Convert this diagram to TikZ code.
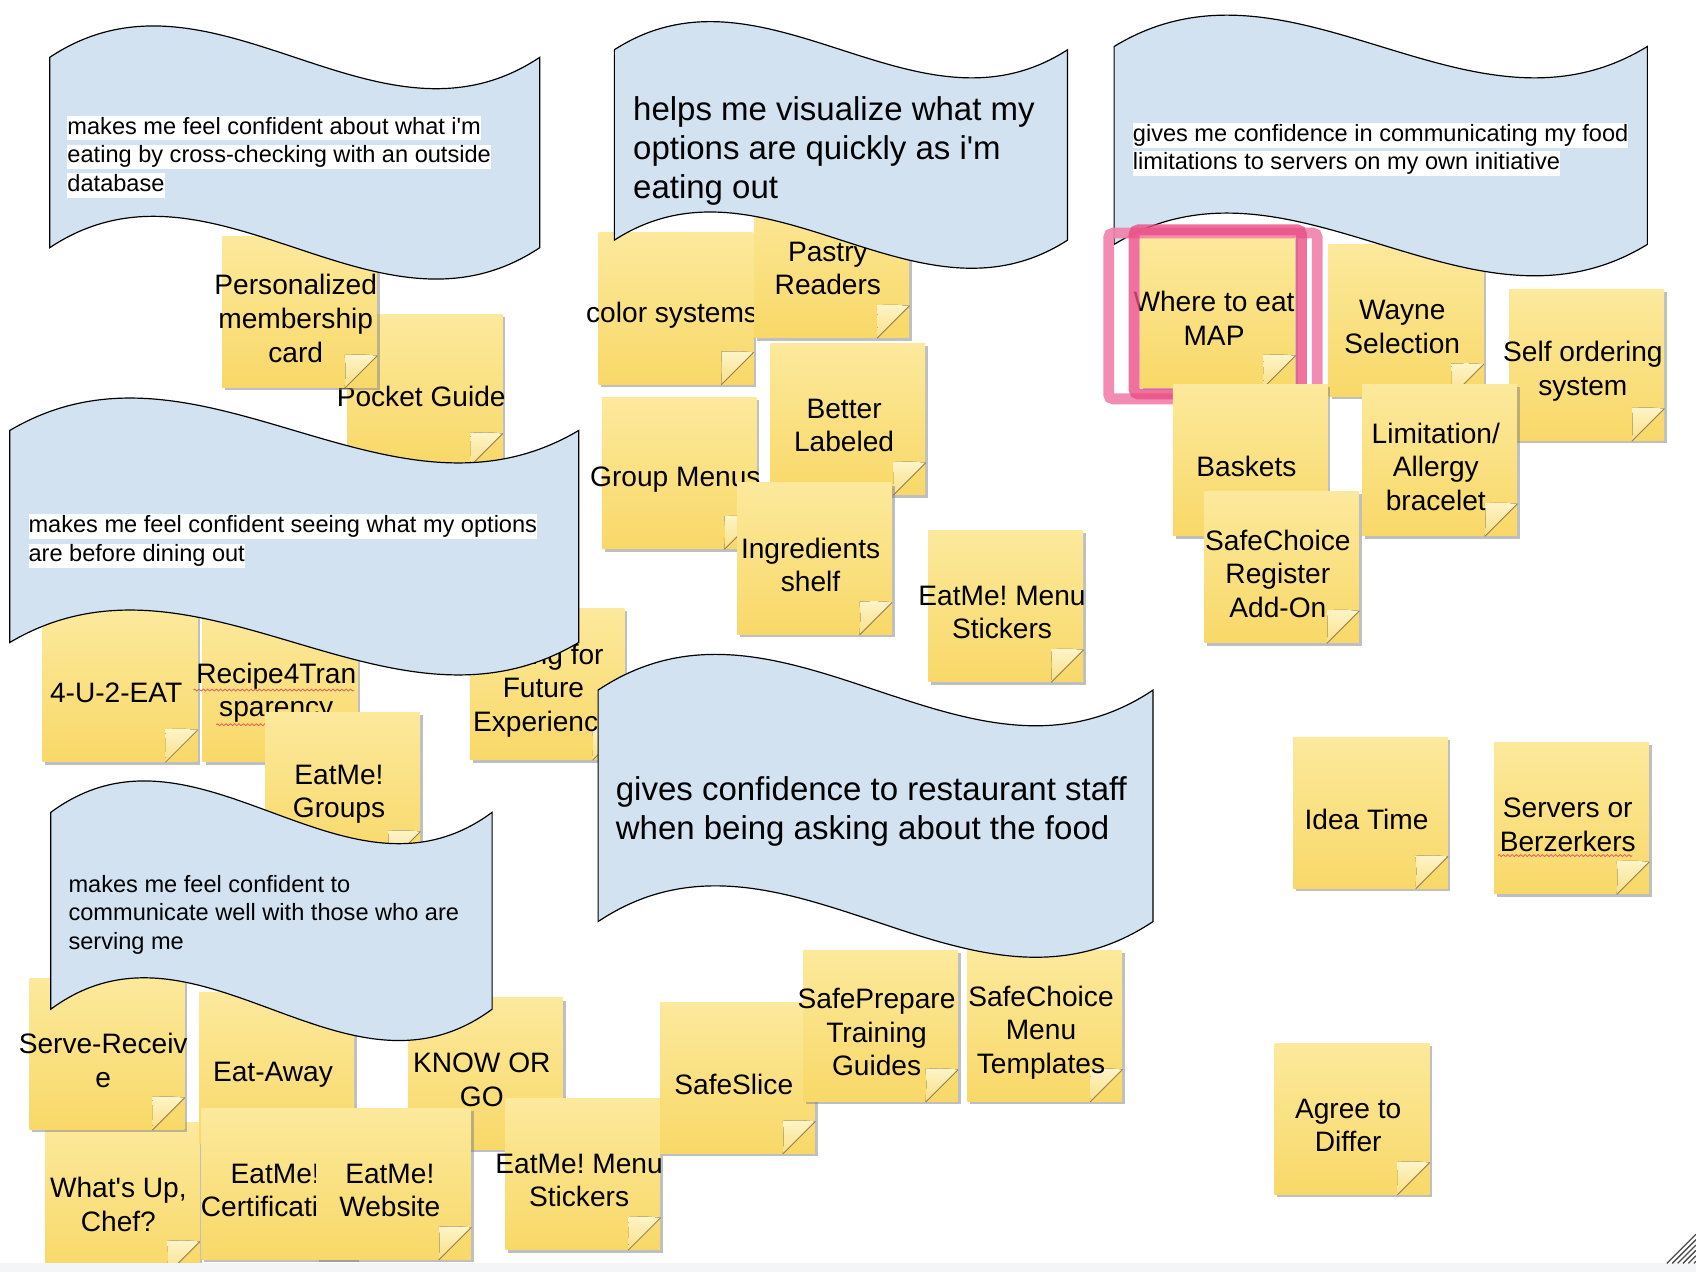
\documentclass[tikz,border=0pt]{standalone}
\usepackage{fontspec}
\setmainfont{Liberation Sans}
\usetikzlibrary{calc,shadows,decorations.pathmorphing}
\definecolor{NoteTopClr}{RGB}{252,233,156}
\definecolor{NoteBotClr}{RGB}{248,216,104}
\definecolor{CurlClr}{RGB}{253,244,200}
\definecolor{CurlEdgeClr}{RGB}{150,130,80}
\definecolor{BannerClr}{RGB}{210,226,241}
\definecolor{SelOutClr}{RGB}{242,128,170}
\definecolor{SelInClr}{RGB}{234,78,134}
\definecolor{SpellClr}{RGB}{226,90,90}
\definecolor{BarClr}{RGB}{244,245,247}
\frenchspacing

\tikzset{
  notebox/.style={anchor=north west,minimum width=71.5pt,minimum height=70pt,inner sep=0pt,
    top color=NoteTopClr,bottom color=NoteBotClr,
    drop shadow={shadow xshift=1.3pt,shadow yshift=-1.3pt,opacity=.5}},
  notetext/.style={align=center,inner sep=0pt,font=\fontsize{13pt}{15.5pt}\selectfont},
  curl/.style={top color=CurlClr,bottom color=NoteBotClr!80!white},
  banner/.style={draw=black,fill=BannerClr,line width=0.55pt},
  small line/.style={anchor=west,inner xsep=0pt,inner ysep=0.6pt,text height=0.78em,text depth=0.24em,
    font=\fontsize{10.9pt}{13.25pt}\selectfont},
  hl line/.style={small line,fill=white},
  big line/.style={anchor=west,inner sep=0pt,text height=0.75em,text depth=0.22em,
    font=\fontsize{15.25pt}{18pt}\selectfont},
  squiggle/.style={draw=SpellClr,line width=0.35pt,decorate,
    decoration={zigzag,amplitude=0.45pt,segment length=2pt}},
}

% sticky note: name, x, y (top left), text
\newcommand{\StickyNote}[4]{%
  \node[notebox] (#1) at (#2,#3) {};
  \fill[curl] ([yshift=15pt]#1.south east) .. controls +(-7pt,0.6pt) .. ([shift={(-15pt,15.3pt)}]#1.south east)
    .. controls +(0.4pt,-7pt) .. ([xshift=-15pt]#1.south east) -- cycle;
  \draw[CurlEdgeClr,line width=.4pt] ([yshift=15pt]#1.south east) -- ([xshift=-15pt]#1.south east);
  \node[notetext] (#1-txt) at ([shift={(-1.75pt,-3pt)}]#1.center) {#4};
}

% wave banner: x, y (top corner), width, height, amplitude
\newcommand{\WaveBanner}[5]{%
  \filldraw[banner] (#1,#2) .. controls ({#1+#3/3},{#2-3.464*#5}) and ({#1+2*#3/3},{#2+3.464*#5}) .. ({#1+#3},#2)
    -- ({#1+#3},{#2+#4}) .. controls ({#1+2*#3/3},{#2+#4+3.464*#5}) and ({#1+#3/3},{#2+#4-3.464*#5}) .. (#1,{#2+#4}) -- cycle;
}

\begin{document}
\begin{tikzpicture}[x=0.5pt,y=-0.5pt]
\useasboundingbox (0,0) rectangle (1568,1176);
\fill[white] (0,0) rectangle (1568,1176);

% top left group
\StickyNote{pg}{321}{290}{Pocket Guide}
\StickyNote{pmc}{205}{218}{Personalized\\membership\\card}

\WaveBanner{46}{53}{453}{176}{29}
\foreach \ln [count=\i] in {makes me feel confident about what i\textquotesingle m,eating by cross-checking with an outside,database}
  \node[hl line] (bone-\i) at (62,{118.5+26.5*(\i-1)}) {\ln};

% middle left group
\StickyNote{fue}{39}{564}{4-U-2-EAT}
\StickyNote{rft}{187}{564}{Recipe4Tran\\sparency}
\draw[squiggle] (179,638) -- (327,638);
\draw[squiggle] (200,670) -- (312,670);
\StickyNote{eff}{434}{562}{Eating for\\Future\\Experience}

\WaveBanner{9}{398}{526}{196}{30}
\foreach \ln [count=\i] in {makes me feel confident seeing what my options,are before dining out}
  \node[hl line] (bfour-\i) at (26,{487+27*(\i-1)}) {\ln};

\StickyNote{emg}{245}{658}{EatMe!\\Groups}

% bottom left group
\StickyNote{wuc}{41}{1037}{What\textquotesingle s Up,\\Chef?}
\StickyNote{srv}{27}{904}{Serve-Receiv\\e}
\StickyNote{eaw}{184}{917}{Eat-Away}
\StickyNote{kog}{377}{922}{KNOW OR\\GO}

\WaveBanner{47}{751}{408}{182}{29}
\foreach \ln [count=\i] in {makes me feel confident to,communicate well with those who are,serving me}
  \node[small line] (bfive-\i) at (63,{820+26*(\i-1)}) {\ln};

\StickyNote{emc}{186}{1024}{EatMe!\\Certification}
\StickyNote{emw}{292}{1024}{EatMe!\\Website}
\StickyNote{emsb}{467}{1015}{EatMe! Menu\\Stickers}
\StickyNote{ssl}{610}{926}{SafeSlice}
\StickyNote{spt}{742}{878}{SafePrepare\\Training\\Guides}
\StickyNote{sct}{894}{878}{SafeChoice\\Menu\\Templates}

% top middle group
\StickyNote{cs}{553}{215}{color systems}
\StickyNote{pr}{697}{172}{Pastry\\Readers}

\WaveBanner{568}{46}{419}{176}{26}
\foreach \ln [count=\i] in {helps me visualize what my,options are quickly as i\textquotesingle m,eating out}
  \node[big line] (btwo-\i) at (585,{106+36*(\i-1)}) {\ln};

\StickyNote{bl}{712}{317}{Better\\Labeled}
\StickyNote{gm}{556}{367}{Group Menus}
\StickyNote{ing}{681}{446}{Ingredients\\shelf}
\StickyNote{emsa}{858}{490}{EatMe! Menu\\Stickers}

\WaveBanner{553}{638}{513}{214}{33}
\foreach \ln [count=\i] in {gives confidence to restaurant staff,when being asking about the food}
  \node[big line] (bsix-\i) at (569,{735+36*(\i-1)}) {\ln};

% top right group
\StickyNote{ws}{1228}{226}{Wayne\\Selection}

\WaveBanner{1030}{43}{493}{183}{29}
\foreach \ln [count=\i] in {gives me confidence in communicating my food,limitations to servers on my own initiative}
  \node[hl line] (bthree-\i) at (1047,{125+26*(\i-1)}) {\ln};

\StickyNote{wte}{1054}{218}{Where to eat\\MAP}
\draw[SelOutClr,opacity=.9,line width=5pt,rounded corners=2pt]
  ([shift={(-14.5pt,1.25pt)}]wte.north west) rectangle ([shift={(10pt,-5pt)}]wte.south east);
\draw[SelInClr,opacity=.8,line width=5pt,rounded corners=2pt]
  ([shift={(-2.75pt,2.75pt)}]wte.north west) rectangle ([shift={(2.75pt,-2.75pt)}]wte.south east);

\StickyNote{sos}{1395}{267}{Self ordering\\system}
\StickyNote{bsk}{1084}{355}{Baskets}
\StickyNote{lab}{1259}{355}{Limitation/\\Allergy\\bracelet}
\StickyNote{scr}{1113}{454}{SafeChoice\\Register\\Add-On}

% bottom right group
\StickyNote{it}{1195}{681}{Idea Time}
\StickyNote{sob}{1381}{686}{Servers or\\Berzerkers}
\draw[squiggle] (1385,791) -- (1509,791);
\StickyNote{atd}{1178}{964}{Agree to\\Differ}

% window bar and grip
\fill[BarClr] (0,1168) rectangle (1568,1176);
\foreach \k in {0,...,5}
  \draw[black!70,line width=0.6pt] ({1541+5*\k},1168) -- (1568,{1141+5*\k});

\end{tikzpicture}
\end{document}
